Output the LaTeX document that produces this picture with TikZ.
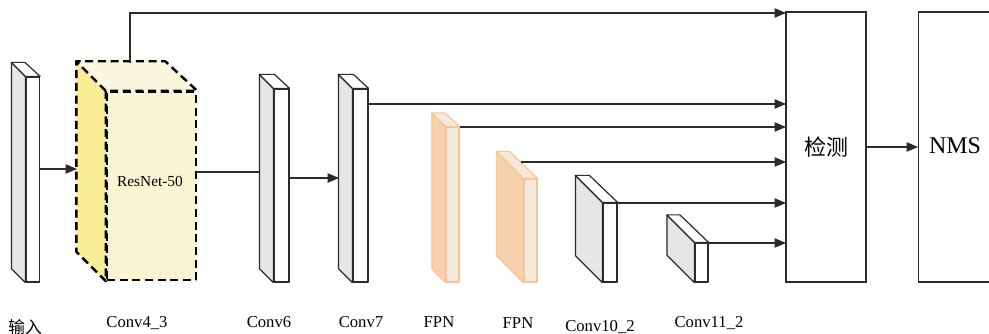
\documentclass[tikz,border=0pt]{standalone}
\usepackage{fontspec}
\setmainfont{Liberation Serif}
\newfontfamily\cjk{Noto Sans CJK SC}
\usetikzlibrary{arrows.meta,calc}
\definecolor{edge}{HTML}{2B2B2B}
\definecolor{grayside}{HTML}{E6E6E6}
\definecolor{yside}{HTML}{F9EC97}
\definecolor{yfront}{HTML}{FAF4D3}
\definecolor{ytop}{HTML}{FBF6DE}
\definecolor{oside}{HTML}{F7D1AD}
\definecolor{ofront}{HTML}{F5E8DD}
\definecolor{oedge}{HTML}{F8C496}
\tikzset{
  gfront/.style={draw=edge,fill=white,line width=0.9pt,inner sep=0pt,line join=round},
  gside/.style={draw=edge,fill=grayside,line width=0.9pt,line join=round},
  gtop/.style={draw=edge,fill=white,line width=0.9pt,line join=round},
  rfront/.style={draw=black,fill=yfront,line width=1.8pt,dash pattern=on 6pt off 3.5pt,inner sep=0pt,line join=round},
  rside/.style={draw=black,fill=yside,line width=1.8pt,dash pattern=on 6pt off 3.5pt,line join=round},
  rtop/.style={draw=black,fill=ytop,line width=1.8pt,dash pattern=on 6pt off 3.5pt,line join=round},
  ofront/.style={draw=oedge,fill=ofront,line width=0.9pt,inner sep=0pt,line join=round},
  oside/.style={draw=oedge,fill=oside,line width=0.9pt,line join=round},
  otop/.style={draw=oedge,fill=ofront,line width=0.9pt,line join=round},
  conn/.style={draw=edge,line width=0.8pt},
  arr/.style={conn,-{Triangle[length=8.5pt,width=7pt]}},
  lbl/.style={font=\fontsize{12.5}{14}\selectfont,inner sep=0pt,anchor=base},
  bigbox/.style={draw=edge,line width=0.9pt,fill=white,inner sep=0pt},
}
% name, front x-left, front x-right, y-top, y-bottom, depth, style prefix
\newcommand\mycub[7]{%
  \node[#7front,minimum width={(#3-#2)*0.75pt},minimum height={(#5-#4)*0.75pt}] (#1) at ({(#2+#3)/2},{(#4+#5)/2}) {};
  \filldraw[#7side] (#1.north west) -- ++(-#6,-#6) -- ($(#1.south west)+(-#6,-#6)$) -- (#1.south west) -- cycle;
  \filldraw[#7top] (#1.north west) -- ++(-#6,-#6) -- ++({#3-#2},0) -- (#1.north east) -- cycle;
}
\begin{document}
\begin{tikzpicture}[x=0.75pt,y=-0.75pt]
\useasboundingbox (0,0) rectangle (989,334);
% blocks
\mycub{inp}{26}{39.5}{77}{282}{14}{g}
\mycub{res}{107}{196}{92}{280}{29.5}{r}
\node[font=\fontsize{11.5}{13}\selectfont,inner sep=0pt] (rest) at (150,181) {ResNet-50};
\mycub{cvsix}{274}{289}{89}{282}{14}{g}
\mycub{cvseven}{353}{368}{89}{282}{14}{g}
\mycub{fpna}{446}{459}{127}{282}{13.5}{o}
\mycub{fpnb}{524}{537}{179}{282}{27}{o}
\mycub{cvten}{603}{617}{203}{282}{27}{g}
\mycub{cveleven}{695}{708}{243}{282}{27.5}{g}
% detection and NMS
\node[bigbox,minimum width={80*0.75pt},minimum height={270*0.75pt},font=\cjk\fontsize{16.5}{18}\selectfont] (det) at (826,147) {检测};
\node[bigbox,minimum width={77*0.75pt},minimum height={270*0.75pt},anchor=west] (nms) at (918,147) {};
\node[font=\fontsize{18}{20}\selectfont,inner sep=0pt] (nmst) at (955,146) {NMS};
% connector endpoints
\coordinate (resin) at (77,169);
\coordinate (sixin) at (260,172);
\coordinate (sevenin) at (339,178);
\coordinate (restop) at (130,63);
\coordinate (dA) at (786,13);
\coordinate (dB) at (786,104);
\coordinate (dC) at (786,127);
\coordinate (dD) at (786,162);
\coordinate (dE) at (786,203);
\coordinate (dF) at (786,243);
\coordinate (fpnbout) at (520.5,162);
% connectors
\draw[arr] (inp.east |- resin) -- (resin);
\draw[conn] (res.east |- sixin) -- (sixin);
\draw[arr] (cvsix.east |- sevenin) -- (sevenin);
\draw[arr] (restop) |- (dA);
\draw[arr] (cvseven.east |- dB) -- (dB);
\draw[arr] (fpna.east |- dC) -- (dC);
\draw[arr] (fpnbout) -- (dD);
\draw[arr] (cvten.east |- dE) -- (dE);
\draw[arr] (cveleven.east |- dF) -- (dF);
\draw[arr] (det.east) -- (nms.west);
% labels
\node[font=\cjk\fontsize{12.5}{14}\selectfont,inner sep=0pt] (linp) at (25,327) {输入};
\node[lbl] (lres) at (137,328) {Conv4\_3};
\node[lbl] (lsix) at (269,328) {Conv6};
\node[lbl] (lseven) at (361,328) {Conv7};
\node[lbl] (lfpna) at (439,328) {FPN};
\node[lbl] (lfpnb) at (518,329) {FPN};
\node[lbl] (lten) at (600,332) {Conv10\_2};
\node[lbl] (leleven) at (709,328) {Conv11\_2};
\end{tikzpicture}
\end{document}
